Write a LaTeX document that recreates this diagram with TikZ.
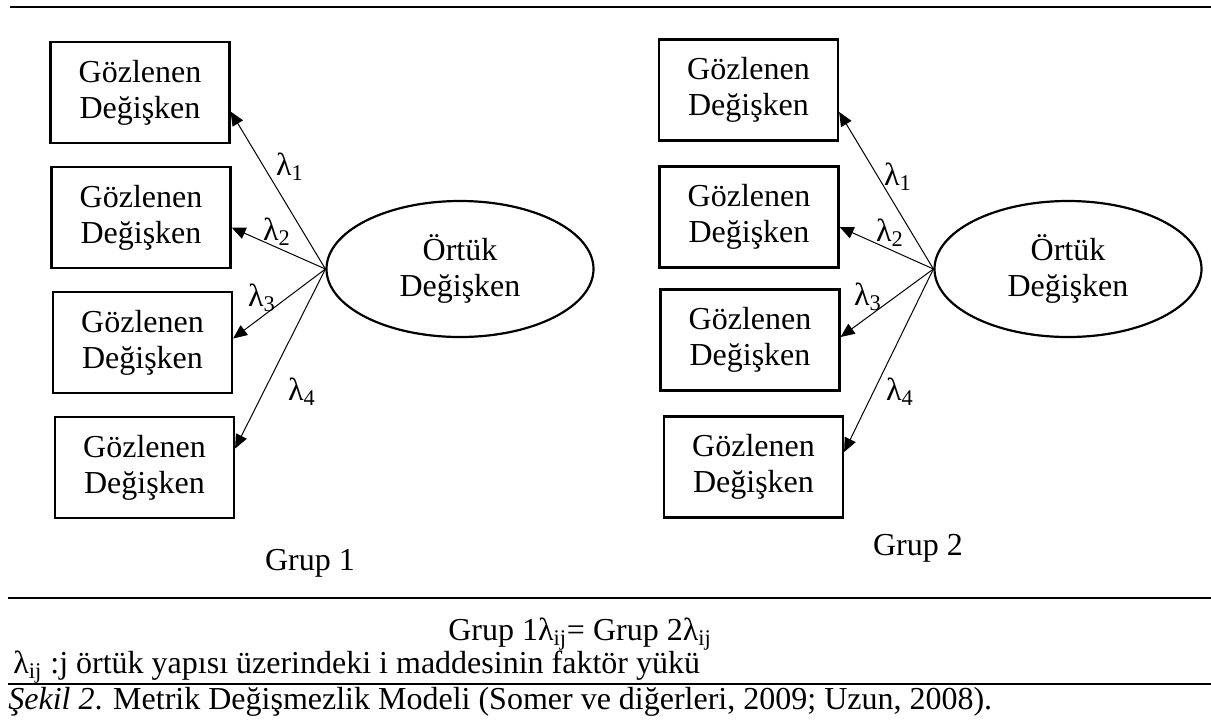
\documentclass[tikz,border=0pt]{standalone}
\usepackage{fontspec}
\setmainfont{Liberation Serif}
\usetikzlibrary{arrows.meta,shapes.geometric}

\begin{document}
\begin{tikzpicture}[x=0.5pt,y=-0.5pt,font=\fontsize{16}{18}\selectfont,
	obs_node/.style={draw,line width=1.1pt,minimum width=89.5pt,minimum height=50.5pt,align=center,inner sep=0pt},
	lat_node/.style={ellipse,draw,line width=1.1pt,minimum width=133.5pt,minimum height=68pt,align=center,inner sep=0pt},
	load_arrow/.style={-{Triangle[length=7pt,width=6pt]},line width=0.5pt},
	rule_line/.style={line width=1.1pt}]
	\useasboundingbox (0,0) rectangle (1211,719);
	\draw[rule_line] (10,7) -- (1211,7);

	\node[obs_node] (g1a) at (140,92.5) {Gözlenen\\Değişken};
	\node[obs_node] (g1b) at (141,217.5) {Gözlenen\\Değişken};
	\node[obs_node] (g1c) at (142.5,342.5) {Gözlenen\\Değişken};
	\node[obs_node] (g1d) at (144.5,467.5) {Gözlenen\\Değişken};
	\node[lat_node] (o1) at (460,269) {Örtük\\Değişken};

	\draw[load_arrow] (o1.west) -- ([yshift=-9.5pt]g1a.east);
	\draw[load_arrow] (o1.west) -- ([yshift=-5pt]g1b.east);
	\draw[load_arrow] (o1.west) -- ([yshift=2pt]g1c.east);
	\draw[load_arrow] (o1.west) -- ([yshift=9.5pt]g1d.east);
	\node (l1a) at (290,167) {λ\textsubscript{1}};
	\node (l1b) at (277,232) {λ\textsubscript{2}};
	\node (l1c) at (262,298) {λ\textsubscript{3}};
	\node (l1d) at (302,392) {λ\textsubscript{4}};
	\node (grup1) at (310,563) {Grup 1};

	\node[obs_node] (g2a) at (748.5,90) {Gözlenen\\Değişken};
	\node[obs_node] (g2b) at (749,217) {Gözlenen\\Değişken};
	\node[obs_node] (g2c) at (750,340) {Gözlenen\\Değişken};
	\node[obs_node] (g2d) at (753.5,467) {Gözlenen\\Değişken};
	\node[lat_node] (o2) at (1068,269) {Örtük\\Değişken};

	\draw[load_arrow] (o2.west) -- ([yshift=-11pt]g2a.east);
	\draw[load_arrow] (o2.west) -- ([yshift=-5pt]g2b.east);
	\draw[load_arrow] (o2.west) -- ([yshift=1.5pt]g2c.east);
	\draw[load_arrow] (o2.west) -- ([yshift=7.5pt]g2d.east);
	\node (l2a) at (898,177) {λ\textsubscript{1}};
	\node (l2b) at (890,233) {λ\textsubscript{2}};
	\node (l2c) at (868,297) {λ\textsubscript{3}};
	\node (l2d) at (900,392) {λ\textsubscript{4}};
	\node (grup2) at (918,548) {Grup 2};

	\draw[rule_line] (8,598) -- (1211,598);
	\node (eq) at (580,634) {Grup 1λ\textsubscript{ij}= Grup 2λ\textsubscript{ij}};
	\node[anchor=west,inner sep=0pt] (note) at (13,667) {λ\textsubscript{ij} :j örtük yapısı üzerindeki i maddesinin faktör yükü};
	\draw[rule_line] (8,684) -- (1211,684);
	\node[anchor=west,inner sep=0pt] (caption) at (8,702) {\textit{Şekil 2}. Metrik Değişmezlik Modeli (Somer ve diğerleri, 2009; Uzun, 2008).};
\end{tikzpicture}
\end{document}
